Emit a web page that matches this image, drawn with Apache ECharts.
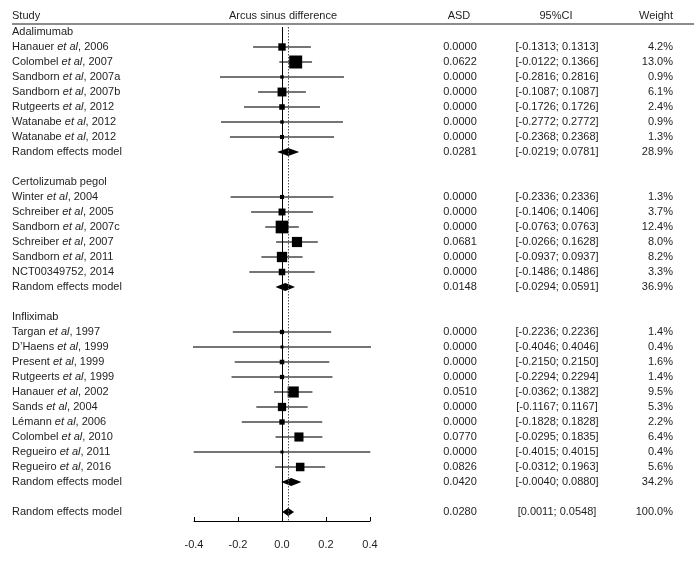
<!DOCTYPE html>
<html><head><meta charset="utf-8">
<script src="https://cdn.jsdelivr.net/npm/echarts@6/dist/echarts.min.js"></script>
<style>html,body{margin:0;padding:0;background:#fff}#c{width:694px;height:561px}</style>
</head><body><div id="c"></div>
<script>
const FONT = '"Liberation Sans", Arial, sans-serif';
const groupNames = ['Adalimumab', 'Certolizumab pegol', 'Infliximab'];

const adaStudies = ['Hanauer {i|et al}, 2006','Colombel {i|et al}, 2007','Sandborn {i|et al}, 2007a','Sandborn {i|et al}, 2007b','Rutgeerts {i|et al}, 2012','Watanabe {i|et al}, 2012','Watanabe {i|et al}, 2012'];
const adaEst    = [0.0000, 0.0622, 0.0000, 0.0000, 0.0000, 0.0000, 0.0000];
const adaLower  = [-0.1313, -0.0122, -0.2816, -0.1087, -0.1726, -0.2772, -0.2368];
const adaUpper  = [0.1313, 0.1366, 0.2816, 0.1087, 0.1726, 0.2772, 0.2368];
const adaWeight = [4.2, 13.0, 0.9, 6.1, 2.4, 0.9, 1.3];

const cerStudies = ['Winter {i|et al}, 2004','Schreiber {i|et al}, 2005','Sandborn {i|et al}, 2007c','Schreiber {i|et al}, 2007','Sandborn {i|et al}, 2011','NCT00349752, 2014'];
const cerEst    = [0.0000, 0.0000, 0.0000, 0.0681, 0.0000, 0.0000];
const cerLower  = [-0.2336, -0.1406, -0.0763, -0.0266, -0.0937, -0.1486];
const cerUpper  = [0.2336, 0.1406, 0.0763, 0.1628, 0.0937, 0.1486];
const cerWeight = [1.3, 3.7, 12.4, 8.0, 8.2, 3.3];

const infStudies = ['Targan {i|et al}, 1997','D’Haens {i|et al}, 1999','Present {i|et al}, 1999','Rutgeerts {i|et al}, 1999','Hanauer {i|et al}, 2002','Sands {i|et al}, 2004','Lémann {i|et al}, 2006','Colombel {i|et al}, 2010','Regueiro {i|et al}, 2011','Regueiro {i|et al}, 2016'];
const infEst    = [0.0000, 0.0000, 0.0000, 0.0000, 0.0510, 0.0000, 0.0000, 0.0770, 0.0000, 0.0826];
const infLower  = [-0.2236, -0.4046, -0.2150, -0.2294, -0.0362, -0.1167, -0.1828, -0.0295, -0.4015, -0.0312];
const infUpper  = [0.2236, 0.4046, 0.2150, 0.2294, 0.1382, 0.1167, 0.1828, 0.1835, 0.4015, 0.1963];
const infWeight = [1.4, 0.4, 1.6, 1.4, 9.5, 5.3, 2.2, 6.4, 0.4, 5.6];

const reEst    = [0.0281, 0.0148, 0.0420];
const reLower  = [-0.0219, -0.0294, -0.0040];
const reUpper  = [0.0781, 0.0591, 0.0880];
const reWeight = [28.9, 36.9, 34.2];

const overallEst = 0.0280, overallLower = 0.0011, overallUpper = 0.0548, overallWeight = 100.0;

const xTicks = [-0.4, -0.2, 0.0, 0.2, 0.4];

// build rows
const groups = [
  [adaStudies, adaEst, adaLower, adaUpper, adaWeight],
  [cerStudies, cerEst, cerLower, cerUpper, cerWeight],
  [infStudies, infEst, infLower, infUpper, infWeight]
];
const rows = [];
let r = 0;
groups.forEach((g, gi) => {
  rows.push({row: r++, type: 'head', label: groupNames[gi], est: 0});
  g[0].forEach((s, i) => {
    rows.push({row: r++, type: 'study', label: s, est: g[1][i], lower: g[2][i], upper: g[3][i], w: g[4][i]});
  });
  rows.push({row: r++, type: 're', label: 'Random effects model', est: reEst[gi], lower: reLower[gi], upper: reUpper[gi], w: reWeight[gi]});
  r++;
});
rows.push({row: r, type: 're', label: 'Random effects model', est: overallEst, lower: overallLower, upper: overallUpper, w: overallWeight});

const TXT = '#1e1e1e';
const rich = {i: {fontStyle: 'italic', fontSize: 11, fontFamily: FONT, fill: TXT}};

const chart = echarts.init(document.getElementById('c'), null, {renderer: 'canvas'});
chart.setOption({
  animation: false,
  backgroundColor: '#fff',
  grid: {left: 194, right: 324, top: 27, bottom: 40},
  xAxis: {
    type: 'value', min: -0.4, max: 0.4, interval: 0.2, position: 'bottom',
    axisLine: {show: true, onZero: false, lineStyle: {color: '#000', width: 1}},
    axisTick: {show: true, inside: true, length: 4, lineStyle: {color: '#000'}},
    axisLabel: {margin: 18, color: TXT, fontSize: 11, fontFamily: FONT,
      formatter: v => xTicks.includes(Math.round(v*10)/10) ? v.toFixed(1) : ''},
    splitLine: {show: false}
  },
  yAxis: {type: 'value', inverse: true, min: -0.3333, max: 32.6, show: false},
  graphic: [
    {type: 'text', left: 12, top: 10, style: {text: 'Study', fill: TXT, font: '11px ' + FONT}},
    {type: 'text', x: 283, y: 16, style: {text: 'Arcus sinus difference', fill: TXT, font: '11px ' + FONT, align: 'center', verticalAlign: 'middle'}},
    {type: 'text', x: 459, y: 16, style: {text: 'ASD', fill: TXT, font: '11px ' + FONT, align: 'center', verticalAlign: 'middle'}},
    {type: 'text', x: 556, y: 16, style: {text: '95%CI', fill: TXT, font: '11px ' + FONT, align: 'center', verticalAlign: 'middle'}},
    {type: 'text', x: 673, y: 16, style: {text: 'Weight', fill: TXT, font: '11px ' + FONT, align: 'right', verticalAlign: 'middle'}},
    {type: 'line', shape: {x1: 12, y1: 24, x2: 694, y2: 24}, style: {stroke: '#8c8c8c', lineWidth: 2}}
  ],
  series: [{
    type: 'custom',
    clip: false,
    data: rows.map(d => [d.est, d.row]),
    encode: {x: 0, y: 1},
    renderItem: function (params, api) {
      const d = rows[params.dataIndex];
      const y = api.coord([0, d.row])[1];
      const ch = [];
      ch.push({type: 'text', style: {x: 12, y: y, text: d.label, rich: rich, fill: TXT, font: '11px ' + FONT, verticalAlign: 'middle'}});
      if (d.type === 'head') return {type: 'group', children: ch};
      ch.push({type: 'text', style: {x: 460, y: y, text: d.est.toFixed(4), fill: TXT, font: '11px ' + FONT, align: 'center', verticalAlign: 'middle'}});
      ch.push({type: 'text', style: {x: 557, y: y, text: '[' + d.lower.toFixed(4) + '; ' + d.upper.toFixed(4) + ']', fill: TXT, font: '11px ' + FONT, align: 'center', verticalAlign: 'middle'}});
      ch.push({type: 'text', style: {x: 673, y: y, text: d.w.toFixed(1) + '%', fill: TXT, font: '11px ' + FONT, align: 'right', verticalAlign: 'middle'}});
      const xL = api.coord([d.lower, d.row])[0];
      const xU = api.coord([d.upper, d.row])[0];
      const xE = api.coord([d.est, d.row])[0];
      if (d.type === 'study') {
        ch.push({type: 'line', shape: {x1: xL, y1: y, x2: xU, y2: y}, style: {stroke: '#474747', lineWidth: 1.5}});
        const s = Math.max(3, 3.6 * Math.sqrt(d.w));
        ch.push({type: 'rect', shape: {x: xE - s/2, y: y - s/2, width: s, height: s}, style: {fill: '#000'}});
      } else {
        const h = 4;
        ch.push({type: 'polygon', shape: {points: [[xL, y], [xE, y - h], [xU, y], [xE, y + h]]}, style: {fill: '#000'}});
      }
      return {type: 'group', children: ch};
    },
    markLine: {
      silent: true, symbol: 'none', label: {show: false}, animation: false,
      data: [
        {xAxis: 0, lineStyle: {color: '#000', width: 1, type: 'solid'}},
        {xAxis: overallEst, lineStyle: {color: '#555', width: 1, type: [1.5, 1.5]}}
      ]
    }
  }]
});
</script>
</body></html>
